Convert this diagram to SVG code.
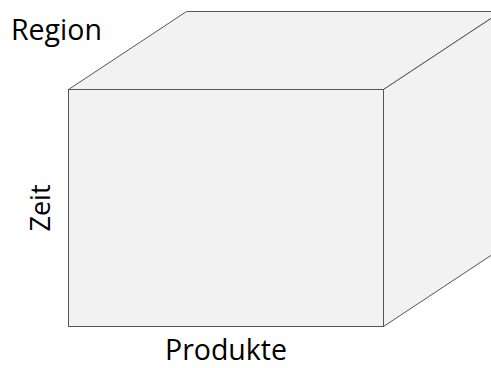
<svg xmlns="http://www.w3.org/2000/svg" width="491" height="368" viewBox="0 0 491 368">
  <style>
    .face { fill: #f2f2f2; stroke: #555555; stroke-width: 1; stroke-linejoin: miter; }
    .label { font-family: "Open Sans", "Liberation Sans", sans-serif; font-size: 28.5px; fill: #000000; }
  </style>
  <rect width="491" height="368" fill="#ffffff"/>
  <g id="cube">
    <!-- top face -->
    <polygon class="face" points="68.5,89.5 186.5,11.5 501.5,11.5 383.5,89.5"/>
    <!-- right side face -->
    <polygon class="face" points="383.5,89.5 501.5,11.5 501.5,248.5 383.5,326.5"/>
    <!-- front face -->
    <rect class="face" x="68.5" y="89.5" width="315" height="237"/>
  </g>
  <g id="labels">
    <text class="label" x="11" y="40">Region</text>
    <text class="label" transform="translate(49.5,208) rotate(-90)" text-anchor="middle" style="font-size:27px">Zeit</text>
    <text class="label" x="226" y="360" text-anchor="middle">Produkte</text>
  </g>
</svg>
